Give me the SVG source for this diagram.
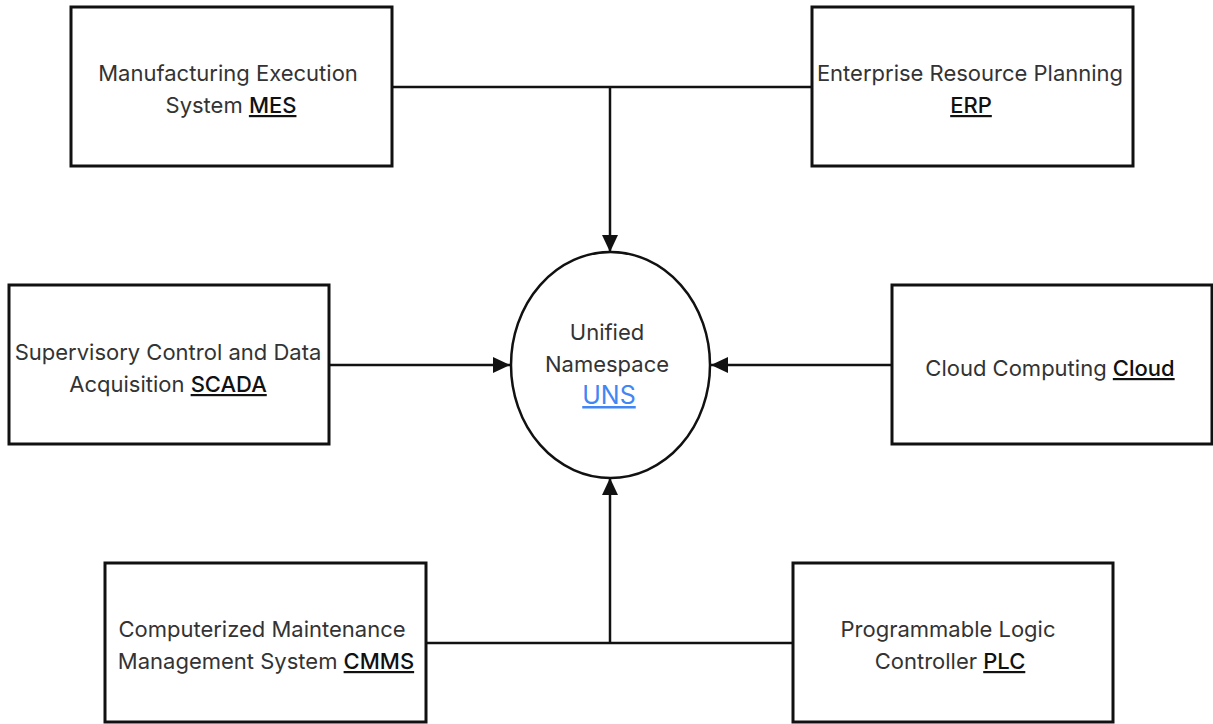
<svg xmlns="http://www.w3.org/2000/svg" width="1213" height="724" viewBox="0 0 1213 724">
<style>
.box{fill:#fff;stroke:#111;stroke-width:3}
.t{font-family:Inter,"Liberation Sans",sans-serif;font-size:22px;fill:#333;text-anchor:middle}
.a{font-weight:500;fill:#111;text-decoration:underline}
.u{fill:#4285f4;text-decoration:underline;font-size:25px}
.c{fill:none;stroke:#111;stroke-width:2.5}
</style>
<defs>
<marker id="ah" markerUnits="userSpaceOnUse" markerWidth="18" markerHeight="16" refX="17" refY="8" orient="auto">
<path d="M0,0 L17,8 L0,16 z" fill="#111"/>
</marker>
</defs>
<rect width="1213" height="724" fill="#fff"/>
<g id="connectors">
<path class="c" d="M392,87 H812"/>
<path class="c" d="M610,87 V252" marker-end="url(#ah)"/>
<path class="c" d="M329,365 H510" marker-end="url(#ah)"/>
<path class="c" d="M892,365 H711" marker-end="url(#ah)"/>
<path class="c" d="M426,643 H793"/>
<path class="c" d="M610,643 V478" marker-end="url(#ah)"/>
</g>
<g id="mes">
<rect class="box" x="71" y="7" width="321" height="159"/>
<text class="t" x="228" y="81">Manufacturing Execution</text>
<text class="t" x="231" y="113">System <tspan class="a">MES</tspan></text>
</g>
<g id="erp">
<rect class="box" x="812" y="7" width="321" height="159"/>
<text class="t" x="970" y="81">Enterprise Resource Planning</text>
<text class="t a" x="971" y="113">ERP</text>
</g>
<g id="uns">
<ellipse cx="610.5" cy="365" rx="99.5" ry="113" fill="#fff" stroke="#111" stroke-width="2.5"/>
<text class="t" x="607" y="340">Unified</text>
<text class="t" x="607" y="372">Namespace</text>
<text class="t u" x="609" y="404">UNS</text>
</g>
<g id="scada">
<rect class="box" x="9" y="285" width="320" height="159"/>
<text class="t" x="168" y="360">Supervisory Control and Data</text>
<text class="t" x="168" y="392">Acquisition <tspan class="a">SCADA</tspan></text>
</g>
<g id="cloud">
<rect class="box" x="892" y="285" width="320" height="159"/>
<text class="t" x="1050" y="376">Cloud Computing <tspan class="a">Cloud</tspan></text>
</g>
<g id="cmms">
<rect class="box" x="105" y="563" width="321" height="159"/>
<text class="t" x="262" y="637">Computerized Maintenance</text>
<text class="t" x="266" y="669">Management System <tspan class="a">CMMS</tspan></text>
</g>
<g id="plc">
<rect class="box" x="793" y="563" width="320" height="159"/>
<text class="t" x="948" y="637">Programmable Logic</text>
<text class="t" x="950" y="669">Controller <tspan class="a">PLC</tspan></text>
</g>
</svg>
